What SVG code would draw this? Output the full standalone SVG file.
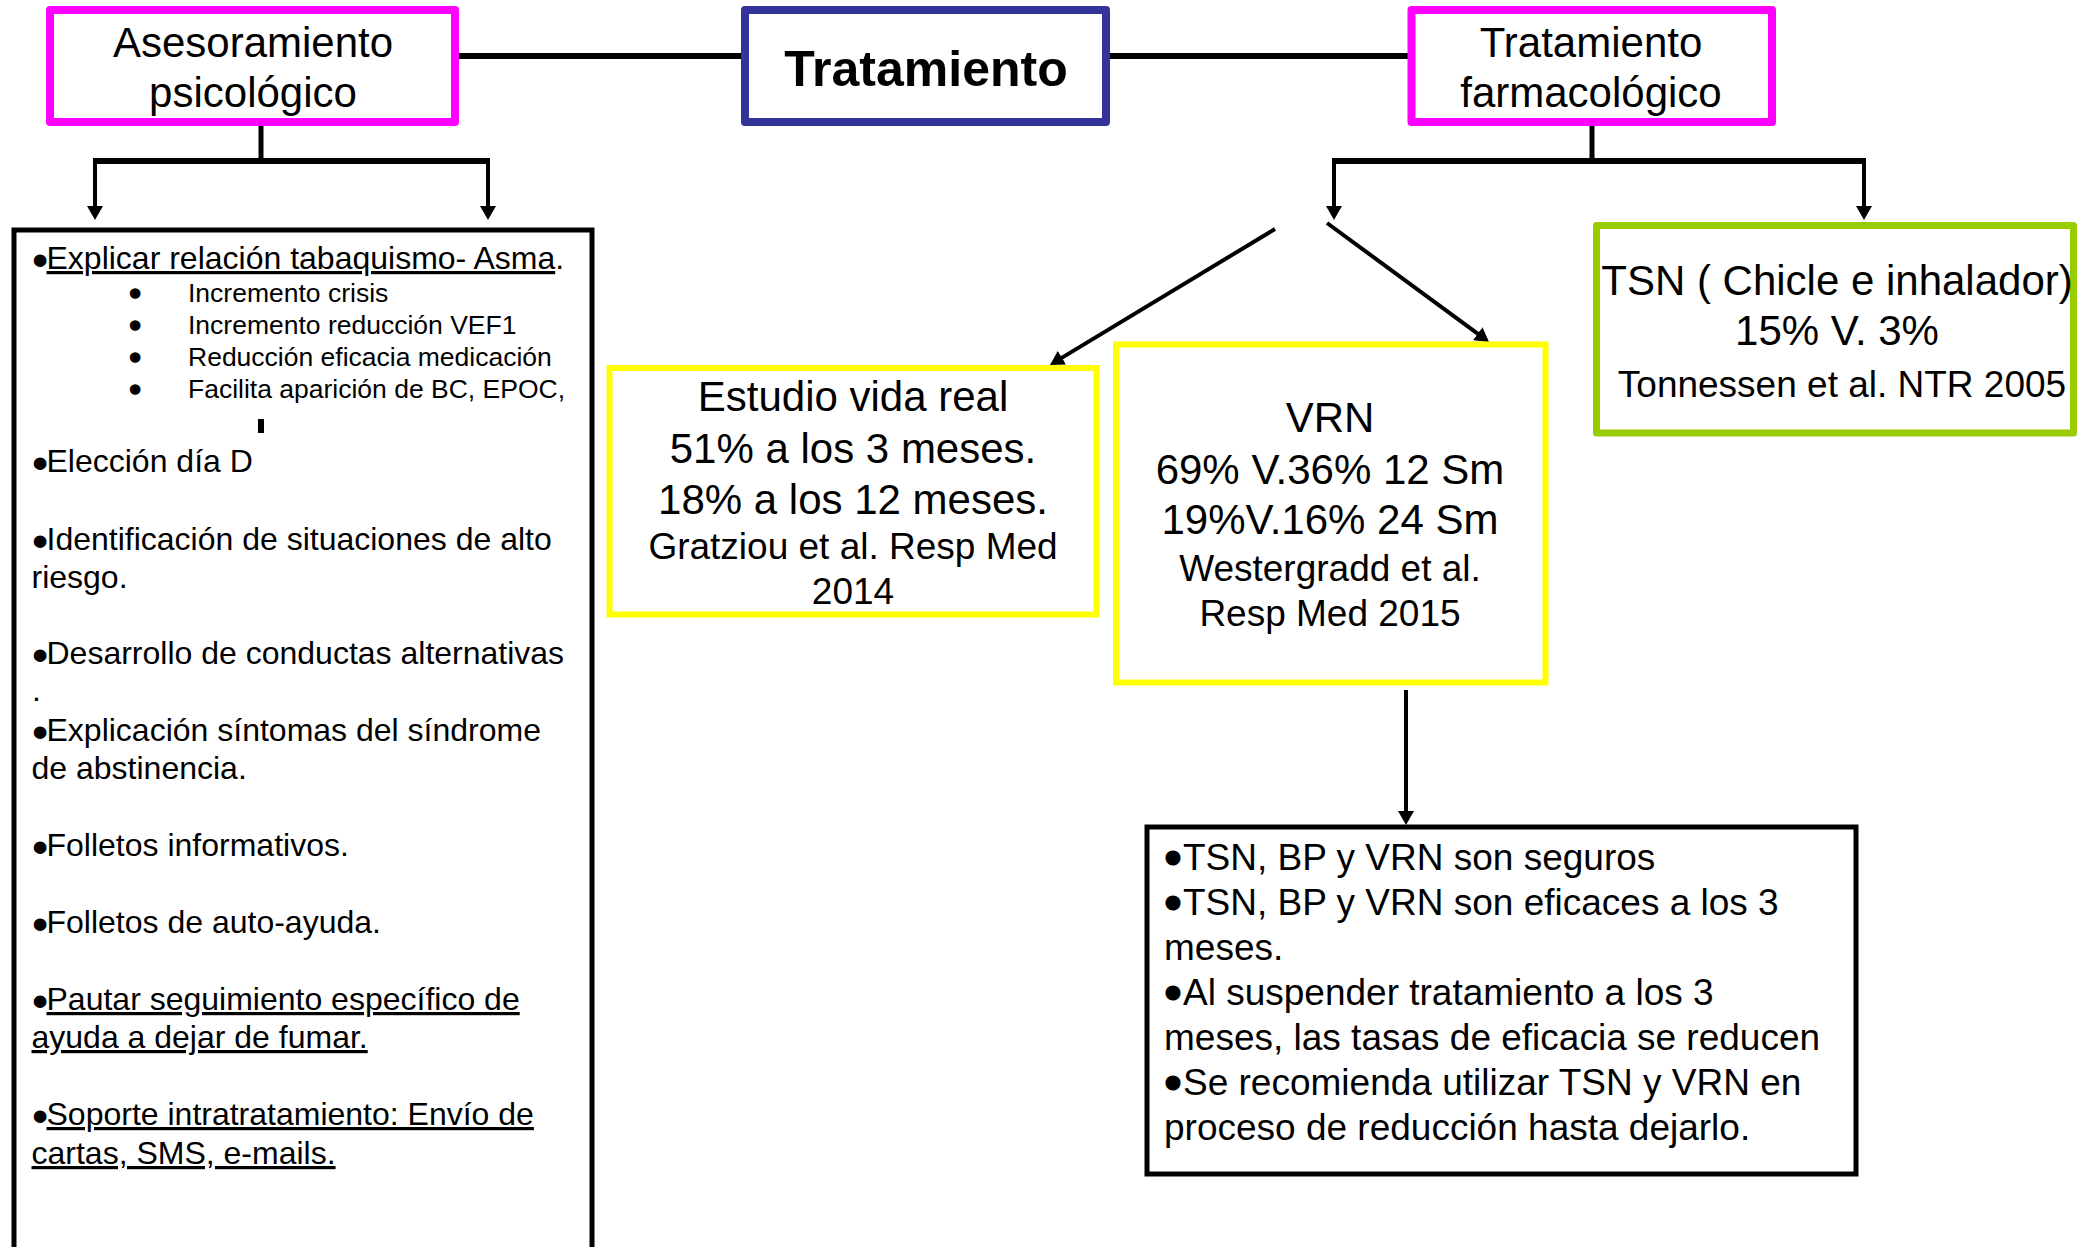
<svg xmlns="http://www.w3.org/2000/svg" width="2078" height="1247" viewBox="0 0 2078 1247">
<style>
text{font-family:"Liberation Sans",Arial,sans-serif;fill:#000}
.t42{font-size:42px;text-anchor:middle}
.t37{font-size:37px;text-anchor:middle}
.m{font-size:32px}
.s{font-size:26.5px}
.b{font-size:37px}
.bm{stroke:#000;stroke-width:4;stroke-linejoin:round}
.bs{stroke:#000;stroke-width:3.5;stroke-linejoin:round}
.bb{stroke:#000;stroke-width:5;stroke-linejoin:round}
.mag{fill:#fff;stroke:#FF00FF;stroke-width:8;stroke-linejoin:round}
.nav{fill:#fff;stroke:#333399;stroke-width:8;stroke-linejoin:round}
.yel{fill:#fff;stroke:#FFFF00;stroke-width:6}
.grn{fill:#fff;stroke:#99CC00;stroke-width:7;stroke-linejoin:round}
.blk{fill:#fff;stroke:#000;stroke-width:5}
.c{stroke:#000;fill:none}
.u{text-decoration:underline}
</style>
<defs>
<marker id="ah" markerUnits="userSpaceOnUse" markerWidth="16" markerHeight="16" refX="10" refY="8" orient="auto">
<path d="M0,0 L14,8 L0,16 z" fill="#000"/>
</marker>
</defs>
<rect width="2078" height="1247" fill="#fff"/>

<g id="connectors">
<line class="c" x1="459" y1="56" x2="741" y2="56" stroke-width="6"/>
<line class="c" x1="1110" y1="56" x2="1408" y2="56" stroke-width="6"/>
<line class="c" x1="261" y1="115" x2="261" y2="161" stroke-width="5"/>
<line class="c" x1="93" y1="161" x2="490" y2="161" stroke-width="6"/>
<line class="c" x1="95" y1="161" x2="95" y2="216" stroke-width="4" marker-end="url(#ah)"/>
<line class="c" x1="488" y1="161" x2="488" y2="216" stroke-width="4" marker-end="url(#ah)"/>
<line class="c" x1="1592" y1="115" x2="1592" y2="161" stroke-width="5"/>
<line class="c" x1="1332" y1="161" x2="1866" y2="161" stroke-width="6"/>
<line class="c" x1="1334" y1="161" x2="1334" y2="216" stroke-width="4" marker-end="url(#ah)"/>
<line class="c" x1="1864" y1="161" x2="1864" y2="216" stroke-width="4" marker-end="url(#ah)"/>
<line class="c" x1="1275" y1="229" x2="1053.4" y2="362.9" stroke-width="4" marker-end="url(#ah)"/>
<line class="c" x1="1327" y1="223" x2="1485.8" y2="339.6" stroke-width="4" marker-end="url(#ah)"/>
<line class="c" x1="1406" y1="690" x2="1406" y2="821" stroke-width="4" marker-end="url(#ah)"/>
</g>

<g id="node-asesoramiento">
<rect class="mag" x="50" y="10" width="405" height="112"/>
<text class="t42" x="253" y="57">Asesoramiento</text>
<text class="t42" x="253" y="107">psicológico</text>
</g>

<g id="node-tratamiento">
<rect class="nav" x="745" y="10" width="361" height="112"/>
<text x="926" y="86" style="font-size:50px;font-weight:bold;text-anchor:middle">Tratamiento</text>
</g>

<g id="node-farmacologico">
<rect class="mag" x="1411.5" y="10" width="360.5" height="112"/>
<text class="t42" x="1591" y="57">Tratamiento</text>
<text class="t42" x="1591" y="107">farmacológico</text>
</g>

<g id="node-psicologico-lista">
<rect class="blk" x="14" y="230" width="578" height="1040"/>
<text class="m" x="34.4" y="269"><tspan class="bm" dy="2">•</tspan><tspan x="46.5" dy="-2" class="u">Explicar relación tabaquismo- Asma</tspan>.</text>
<text class="s" x="130.4" y="302"><tspan class="bs">•</tspan><tspan x="188">Incremento crisis</tspan></text>
<text class="s" x="130.4" y="334"><tspan class="bs">•</tspan><tspan x="188">Incremento reducción VEF1</tspan></text>
<text class="s" x="130.4" y="366"><tspan class="bs">•</tspan><tspan x="188">Reducción eficacia medicación</tspan></text>
<text class="s" x="130.4" y="398"><tspan class="bs">•</tspan><tspan x="188">Facilita aparición de BC, EPOC,</tspan></text>
<rect x="258" y="419" width="6" height="14" fill="#000"/>
<text class="m" x="34.4" y="472"><tspan class="bm" dy="2">•</tspan><tspan x="46.5" dy="-2">Elección día D</tspan></text>
<text class="m" x="34.4" y="550"><tspan class="bm" dy="2">•</tspan><tspan x="46.5" dy="-2">Identificación de situaciones de alto</tspan></text>
<text class="m" x="31.5" y="588">riesgo.</text>
<text class="m" x="34.4" y="664"><tspan class="bm" dy="2">•</tspan><tspan x="46.5" dy="-2">Desarrollo de conductas alternativas</tspan></text>
<text class="m" x="32" y="701">.</text>
<text class="m" x="34.4" y="741"><tspan class="bm" dy="2">•</tspan><tspan x="46.5" dy="-2">Explicación síntomas del síndrome</tspan></text>
<text class="m" x="31.5" y="779">de abstinencia.</text>
<text class="m" x="34.4" y="856"><tspan class="bm" dy="2">•</tspan><tspan x="46.5" dy="-2">Folletos informativos.</tspan></text>
<text class="m" x="34.4" y="933"><tspan class="bm" dy="2">•</tspan><tspan x="46.5" dy="-2">Folletos de auto-ayuda.</tspan></text>
<text class="m" x="34.4" y="1010"><tspan class="bm" dy="2">•</tspan><tspan x="46.5" dy="-2" class="u">Pautar seguimiento específico de</tspan></text>
<text class="m" x="31.5" y="1048"><tspan class="u">ayuda a dejar de fumar.</tspan></text>
<text class="m" x="34.4" y="1125"><tspan class="bm" dy="2">•</tspan><tspan x="46.5" dy="-2" class="u">Soporte intratratamiento: Envío de</tspan></text>
<text class="m" x="31.5" y="1164"><tspan class="u">cartas, SMS, e-mails.</tspan></text>
</g>

<g id="node-estudio">
<rect class="yel" x="609.5" y="368" width="487" height="246.5"/>
<text class="t42" x="853" y="411">Estudio vida real</text>
<text class="t42" x="853" y="463">51% a los 3 meses.</text>
<text class="t42" x="853" y="514">18% a los 12 meses.</text>
<text class="t37" x="853" y="559">Gratziou et al. Resp Med</text>
<text class="t37" x="853" y="604">2014</text>
</g>

<g id="node-vrn">
<rect class="yel" x="1116" y="344.5" width="429.5" height="338"/>
<text class="t42" x="1330" y="432">VRN</text>
<text class="t42" x="1330" y="484">69% V.36% 12 Sm</text>
<text class="t42" x="1330" y="534">19%V.16% 24 Sm</text>
<text class="t37" x="1330" y="581">Westergradd et al.</text>
<text class="t37" x="1330" y="626">Resp Med 2015</text>
</g>

<g id="node-tsn">
<rect class="grn" x="1596.5" y="225.5" width="477" height="207.5"/>
<text class="t42" x="1837" y="295">TSN ( Chicle e inhalador)</text>
<text class="t42" x="1837" y="345">15% V. 3%</text>
<text class="t37" x="1842" y="397">Tonnessen et al. NTR 2005</text>
</g>

<g id="node-conclusiones">
<rect class="blk" x="1147" y="827" width="709" height="347"/>
<text class="b" x="1166.5" y="870"><tspan class="bb">•</tspan><tspan x="1183">TSN, BP y VRN son seguros</tspan></text>
<text class="b" x="1166.5" y="915"><tspan class="bb">•</tspan><tspan x="1183">TSN, BP y VRN son eficaces a los 3</tspan></text>
<text class="b" x="1164" y="960">meses.</text>
<text class="b" x="1166.5" y="1005"><tspan class="bb">•</tspan><tspan x="1183">Al suspender tratamiento a los 3</tspan></text>
<text class="b" x="1164" y="1050">meses, las tasas de eficacia se reducen</text>
<text class="b" x="1166.5" y="1095"><tspan class="bb">•</tspan><tspan x="1183">Se recomienda utilizar TSN y VRN en</tspan></text>
<text class="b" x="1164" y="1140">proceso de reducción hasta dejarlo.</text>
</g>
</svg>
